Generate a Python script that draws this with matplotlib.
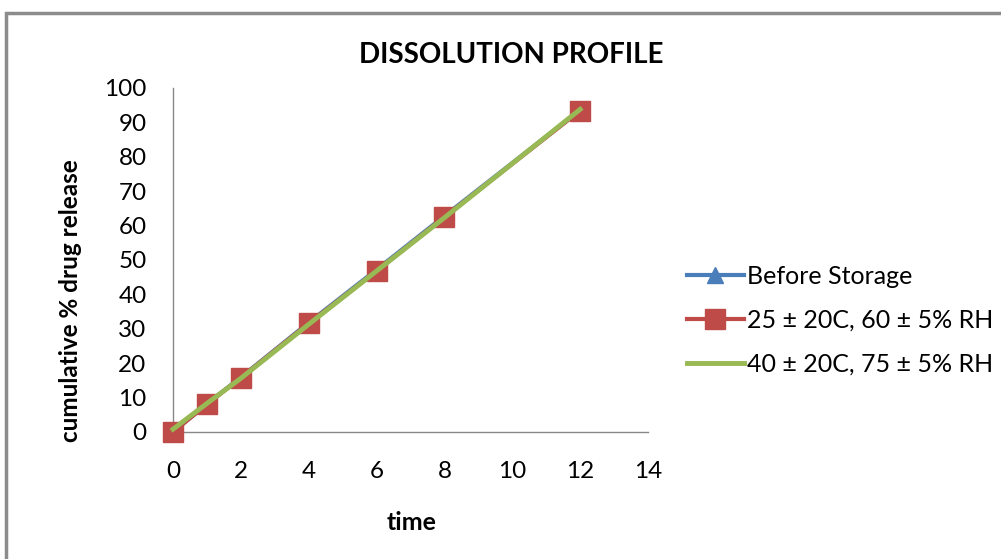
import matplotlib.pyplot as plt
from matplotlib.patches import Rectangle

plt.rcParams['font.family'] = ['Lato', 'DejaVu Sans']

time = [0, 1, 2, 4, 6, 8, 12]
before_storage = [0, 8.2, 15.9, 31.8, 47.2, 62.8, 93.6]
cond_25 = [0, 8.0, 15.8, 31.6, 46.8, 62.5, 93.4]
cond_40 = [0.8, 8.3, 15.6, 31.3, 46.8, 62.3, 93.8]

labels = ['Before Storage', '25 \u00b1 20C, 60 \u00b1 5% RH', '40 \u00b1 20C, 75 \u00b1 5% RH']

fig = plt.figure(figsize=(10.01, 5.59), dpi=100)
ax = fig.add_axes([0.1728, 0.2272, 0.4746, 0.6154])

ax.plot(time, before_storage, color='#4a7ebb', lw=3, marker='^', ms=11, label=labels[0], clip_on=False)
ax.plot(time, cond_25, color='#be4b48', lw=3, marker='s', ms=14.5, label=labels[1], clip_on=False)
ax.plot(time, cond_40, color='#98b954', lw=3.5, label=labels[2], clip_on=False)

ax.set_xlim(0, 14)
ax.set_ylim(0, 100)
ax.set_xticks(range(0, 15, 2))
ax.set_yticks(range(0, 101, 10))
ax.tick_params(axis='x', length=0, labelsize=17.5, pad=21)
ax.tick_params(axis='y', length=0, labelsize=17.5, pad=19)
for s in ['top', 'right']:
    ax.spines[s].set_visible(False)
for s in ['left', 'bottom']:
    ax.spines[s].set_color('#888888')
    ax.spines[s].set_linewidth(1)
    ax.spines[s].set_zorder(0)

fig.text(0.511, 0.902, 'DISSOLUTION PROFILE', ha='center', va='center', fontsize=20, fontweight='bold')
fig.text(0.07, 0.462, 'cumulative % drug release', ha='center', va='center', rotation=90,
         fontsize=17.5, fontweight='bold')
fig.text(0.411, 0.066, 'time', ha='center', va='center', fontsize=18, fontweight='bold')

fig.legend(loc='center left', bbox_to_anchor=(0.686, 0.427), frameon=False, fontsize=18,
           handlelength=2.3, handletextpad=0.12, labelspacing=0.85, borderaxespad=0, borderpad=0)

fig.patches.append(Rectangle((0.006, -0.1), 1.1, 1.0 - 13 / 559 + 0.1, transform=fig.transFigure,
                             fill=False, edgecolor='#8c8c8c', lw=2.5, zorder=-1))

fig.savefig('out.png', dpi=100)
